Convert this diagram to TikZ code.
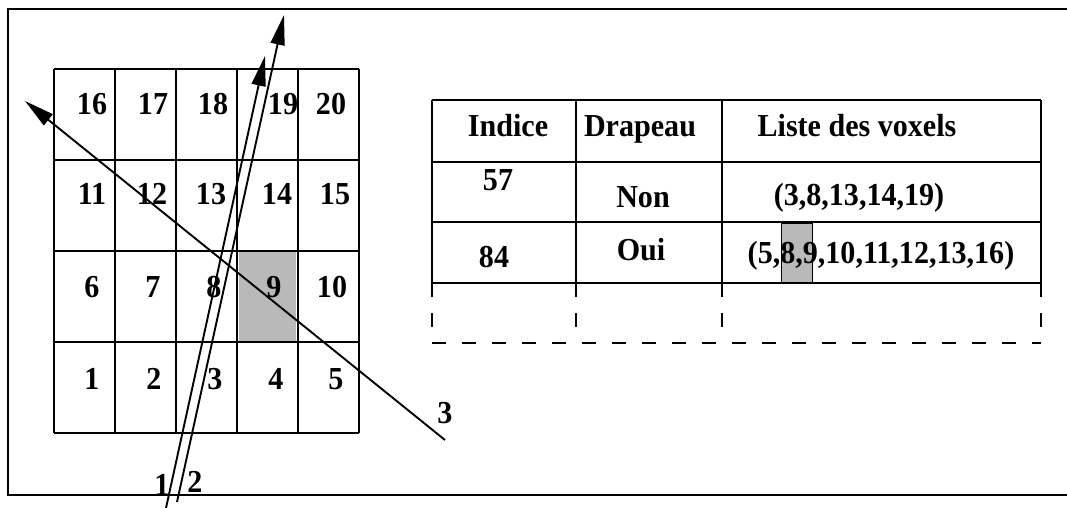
\documentclass[tikz,border=0pt]{standalone}
\usepackage{fontspec}
\setmainfont{Liberation Serif}[FakeStretch=0.94]
\usetikzlibrary{arrows.meta}
\begin{document}
\begin{tikzpicture}[x=1pt,y=-1pt,
  every node/.style={font=\fontsize{32}{38}\selectfont\bfseries, inner sep=0pt},
  num/.style={anchor=base},
  gridline/.style={line width=2pt},
  tabline/.style={line width=2pt},
  tabdash/.style={line width=1.8pt, dash pattern=on 14pt off 16pt},
  ray/.style={line width=1.9pt, -{Triangle[length=30pt,width=14pt]}},
  shade/.style={fill=gray!55}]
\useasboundingbox (0,0) rectangle (1067,508);
\fill[white] (0,0) rectangle (1067,508);
% frame
\draw[line width=2pt] (1067,9) -- (8,9) -- (8,495) -- (1067,495);
% shaded voxel 9
\fill[shade] (239,252) rectangle (296,341);
% grid
\foreach \x in {54,115,176,237,298,359} \draw[gridline] (\x,69) -- (\x,433);
\foreach \y in {69,160,251,342,433} \draw[gridline] (54,\y) -- (359,\y);
% cell numbers
\node[num] (c16) at (92,114) {16};
\node[num] (c17) at (153,114) {17};
\node[num] (c18) at (213,114) {18};
\node[num] (c19) at (283,114) {19};
\node[num] (c20) at (331,114) {20};
\node[num] (c11) at (92,204) {11};
\node[num] (c12) at (152,204) {12};
\node[num] (c13) at (211,204) {13};
\node[num] (c14) at (277,204) {14};
\node[num] (c15) at (335,204) {15};
\node[num] (c6) at (92,297) {6};
\node[num] (c7) at (153,297) {7};
\node[num] (c8) at (214,297) {8};
\node[num] (c9) at (274,297) {9};
\node[num] (c10) at (332,297) {10};
\node[num] (c1) at (92,389) {1};
\node[num] (c2) at (154,389) {2};
\node[num] (c3) at (215,389) {3};
\node[num] (c4) at (276,389) {4};
\node[num] (c5) at (336,389) {5};
% rays
\coordinate (r1s) at (166,508); \coordinate (r1e) at (265,56);
\coordinate (r2s) at (177,502); \coordinate (r2e) at (284,15);
\coordinate (r3s) at (445,440); \coordinate (r3e) at (25,101);
\draw[ray] (r1s) -- (r1e);
\draw[ray] (r2s) -- (r2e);
\draw[ray] (r3s) -- (r3e);
\node (l1) at (162,485) {1};
\node (l2) at (195,482) {2};
\node (l3) at (445,413) {3};
% table
\draw[shade, draw=black, line width=1pt] (781,223) rectangle (812,282);
\foreach \y in {100,162,222,283} \draw[tabline] (432,\y) -- (1041,\y);
\foreach \x in {432,576,722,1041} \draw[tabline] (\x,100) -- (\x,283);
\foreach \x in {432,576,722,1041} \draw[tabdash] (\x,283) -- (\x,343);
\draw[tabdash] (432,343) -- (1041,343);
\node[num] (h1) at (508,136) {Indice};
\node[num] (h2) at (640,136) {Drapeau};
\node[num] (h3) at (857,136) {Liste des voxels};
\node[num] (a1) at (498,190) {57};
\node[num] (a2) at (643,207) {Non};
\node[num] (a3) at (859,205) {(3,8,13,14,19)};
\node[num] (b1) at (494,267) {84};
\node[num] (b2) at (641,260) {Oui};
\node[num] (b3) at (881,263) {(5,8,9,10,11,12,13,16)};
\end{tikzpicture}
\end{document}
